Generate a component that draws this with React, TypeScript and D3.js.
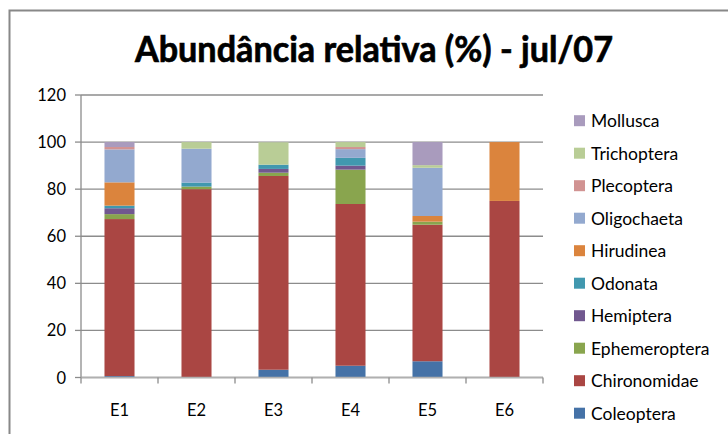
import React from "react";
import * as d3 from "d3";

const categories = ["E1", "E2", "E3", "E4", "E5", "E6"];
const seriesNames = [
  "Coleoptera",
  "Chironomidae",
  "Ephemeroptera",
  "Hemiptera",
  "Odonata",
  "Hirudinea",
  "Oligochaeta",
  "Plecoptera",
  "Trichoptera",
  "Mollusca",
];
const seriesColors = [
  "#4572A7",
  "#AA4643",
  "#89A54E",
  "#71588F",
  "#4198AF",
  "#DB843D",
  "#93A9CF",
  "#D19392",
  "#B9CD96",
  "#A99BBD",
];
const coleoptera = [0.6, 0, 3.3, 5.0, 6.9, 0];
const chironomidae = [66.7, 80.0, 82.3, 68.7, 58.0, 75.0];
const ephemeroptera = [2.1, 1.1, 1.4, 14.6, 1.3, 0];
const hemiptera = [2.5, 0, 1.6, 1.7, 0, 0];
const odonata = [1.1, 1.7, 1.8, 3.3, 0, 0];
const hirudinea = [9.9, 0, 0, 0, 2.4, 25.0];
const oligochaeta = [14.0, 14.4, 0, 3.7, 20.5, 0];
const plecoptera = [1.0, 0, 0, 0.9, 0, 0];
const trichoptera = [0, 2.8, 9.5, 2.1, 1.1, 0];
const mollusca = [2.1, 0, 0, 0, 9.8, 0];
const yTicks = [0, 20, 40, 60, 80, 100, 120];

const seriesValues = [
  coleoptera,
  chironomidae,
  ephemeroptera,
  hemiptera,
  odonata,
  hirudinea,
  oligochaeta,
  plecoptera,
  trichoptera,
  mollusca,
];

const FONT = "Lato, 'Open Sans', sans-serif";

export default function App() {
  const W = 728;
  const H = 434;
  const left = 81;
  const right = 543;
  const top = 95;
  const bottom = 377.5;

  const x = d3
    .scaleBand<string>()
    .domain(categories)
    .range([left, right])
    .paddingInner(0.61)
    .paddingOuter(0.305);
  const y = d3.scaleLinear().domain([0, 120]).range([bottom, top]);

  const table = categories.map((c, i) => {
    const row: Record<string, any> = { cat: c };
    seriesNames.forEach((s, k) => (row[s] = seriesValues[k][i]));
    return row;
  });
  const stacked = d3.stack<any>().keys(seriesNames)(table);

  const step = x.step();
  const catTicks = d3.range(categories.length + 1).map((i) => left + i * step);

  return (
    <svg
      width={W}
      height={H}
      style={{ position: "absolute", left: 0, top: 0, background: "#fff" }}
    >
      <rect x={0} y={0} width={W} height={H} fill="#fff" />
      <rect
        x={9.5}
        y={10.5}
        width={W + 20}
        height={H + 20}
        fill="none"
        stroke="#888"
        strokeWidth={2}
      />
      <text
        x={374}
        y={61.5}
        textAnchor="middle"
        fontFamily={FONT}
        fontWeight="bold"
        fontSize={37}
        textLength={478}
        lengthAdjust="spacingAndGlyphs"
        fill="#000"
        stroke="#000"
        strokeWidth={0.7}
      >
        Abundância relativa (%) - jul/07
      </text>

      {yTicks.map((t) => (
        <g key={t}>
          <line
            x1={left}
            x2={right}
            y1={y(t)}
            y2={y(t)}
            stroke="#8c8c8c"
            strokeWidth={1.3}
          />
          <line
            x1={left - 6}
            x2={left}
            y1={y(t)}
            y2={y(t)}
            stroke="#8c8c8c"
            strokeWidth={1.3}
          />
          <text
            x={left - 15}
            y={y(t) + 6}
            textAnchor="end"
            fontFamily={FONT}
            fontSize={16.5}
            fill="#000"
          >
            {t}
          </text>
        </g>
      ))}

      {stacked.map((layer, k) => (
        <g key={seriesNames[k]} fill={seriesColors[k]}>
          {layer.map((d, i) =>
            d[1] - d[0] > 0 ? (
              <rect
                key={i}
                x={x(categories[i])}
                width={x.bandwidth()}
                y={y(d[1])}
                height={y(d[0]) - y(d[1])}
              />
            ) : null
          )}
        </g>
      ))}

      <line
        x1={left}
        x2={left}
        y1={top}
        y2={bottom}
        stroke="#8c8c8c"
        strokeWidth={1.3}
      />
      <line
        x1={left}
        x2={right}
        y1={bottom}
        y2={bottom}
        stroke="#b0b0b0"
        strokeWidth={1.5}
      />
      {catTicks.map((tx, i) => (
        <line
          key={i}
          x1={tx}
          x2={tx}
          y1={bottom}
          y2={bottom + 6}
          stroke="#8c8c8c"
          strokeWidth={1.3}
        />
      ))}
      {categories.map((c) => (
        <text
          key={c}
          x={(x(c) as number) + x.bandwidth() / 2}
          y={416}
          textAnchor="middle"
          fontFamily={FONT}
          fontSize={16.5}
          fill="#000"
        >
          {c}
        </text>
      ))}

      {seriesNames
        .map((s, k) => ({ s, k }))
        .reverse()
        .map(({ s, k }, j) => {
          const cy = 120.7 + j * 32.5;
          return (
            <g key={s}>
              <rect
                x={574}
                y={cy - 5.5}
                width={11}
                height={11}
                fill={seriesColors[k]}
              />
              <text
                x={591}
                y={cy + 6.5}
                fontFamily={FONT}
                fontSize={17.5}
                fill="#000"
              >
                {s}
              </text>
            </g>
          );
        })}
    </svg>
  );
}
